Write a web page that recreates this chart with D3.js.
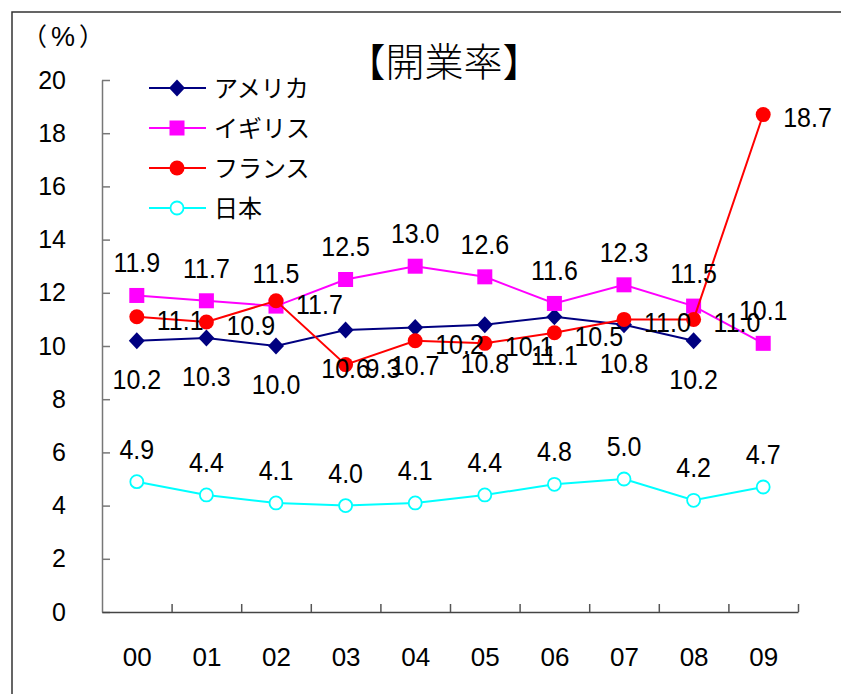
<!DOCTYPE html>
<html>
<head>
<meta charset="utf-8">
<script src="https://cdn.jsdelivr.net/npm/d3@7/dist/d3.min.js"></script>
<style>
  html, body { margin: 0; padding: 0; background: #fff; }
  svg { display: block; }
  .num { font-family: "Liberation Sans", Arial, sans-serif; }
  .jp { font-family: "Noto Sans CJK JP", sans-serif; }
</style>
</head>
<body>
<svg id="chart" width="841" height="694"></svg>
<script>
// Years (fiscal, two-digit)
const years = ["00", "01", "02", "03", "04", "05", "06", "07", "08", "09"];

// Business start-up rate (%) by country
const usa    = [10.2, 10.3, 10.0, 10.6, 10.7, 10.8, 11.1, 10.8, 10.2, null];
const uk     = [11.9, 11.7, 11.5, 12.5, 13.0, 12.6, 11.6, 12.3, 11.5, 10.1];
const france = [11.1, 10.9, 11.7, 9.3, 10.2, 10.1, 10.5, 11.0, 11.0, 18.7];
const japan  = [4.9, 4.4, 4.1, 4.0, 4.1, 4.4, 4.8, 5.0, 4.2, 4.7];

const seriesNames = ["アメリカ", "イギリス", "フランス", "日本"];
const yTicks = [0, 2, 4, 6, 8, 10, 12, 14, 16, 18, 20];

const svg = d3.select("#chart");

// Outer frame (top and left edges visible)
svg.append("rect")
  .attr("x", 12).attr("y", 12)
  .attr("width", 900).attr("height", 800)
  .attr("fill", "none").attr("stroke", "#333").attr("stroke-width", 1.5);

const plot = { left: 102, right: 798, top: 80, bottom: 612 };

const x = d3.scalePoint().domain(years).range([plot.left, plot.right]).padding(0.5);
const xEdges = d3.scaleLinear().domain([0, years.length]).range([plot.left, plot.right]);
const y = d3.scaleLinear().domain([0, 20]).range([plot.bottom, plot.top]);

// Y axis (ticks pointing inward)
const yAxis = svg.append("g")
  .attr("transform", `translate(${plot.left},0)`)
  .call(d3.axisLeft(y).tickValues(yTicks).tickSizeInner(-8).tickSizeOuter(0).tickPadding(36));
yAxis.select(".domain").attr("stroke", "#777").attr("stroke-width", 1.5);
yAxis.selectAll(".tick line").attr("stroke", "#777").attr("stroke-width", 1.5);
yAxis.selectAll("text")
  .attr("class", "num").attr("font-size", 25).attr("fill", "#000");

// X axis line with category boundary ticks pointing up
const xAxis = svg.append("g")
  .attr("transform", `translate(0,${plot.bottom})`)
  .call(d3.axisBottom(xEdges).ticks(years.length).tickSizeInner(-8).tickSizeOuter(0).tickFormat(""));
xAxis.select(".domain").attr("stroke", "#444").attr("stroke-width", 1.5);
xAxis.selectAll(".tick line").attr("stroke", "#555").attr("stroke-width", 1.5);
xAxis.selectAll(".tick").filter(d => d === 0).remove();

// X category labels
const xLabels = svg.append("g")
  .attr("transform", `translate(0,${plot.bottom})`)
  .call(d3.axisBottom(x).tickSize(0).tickPadding(36));
xLabels.select(".domain").remove();
xLabels.selectAll("text")
  .attr("class", "num").attr("font-size", 26).attr("fill", "#000");

// Unit label: full-width parentheses around a percent sign
const unit = svg.append("text").attr("x", 22).attr("y", 46);
unit.append("tspan").attr("class", "jp").attr("font-size", 25).text("（");
unit.append("tspan").attr("class", "num").attr("font-size", 27).attr("dx", 4).text("%");
unit.append("tspan").attr("class", "jp").attr("font-size", 25).attr("dx", 4).text("）");

// Title
svg.append("text").attr("class", "jp")
  .attr("x", 444).attr("y", 76).attr("text-anchor", "middle")
  .attr("font-size", 39).attr("font-weight", 300).text("【開業率】");

const series = [
  { name: seriesNames[0], values: usa,    color: "#000080", marker: "diamond", label: "below" },
  { name: seriesNames[1], values: uk,     color: "#FF00FF", marker: "square",  label: "above" },
  { name: seriesNames[2], values: france, color: "#FF0000", marker: "circle",  label: "right" },
  { name: seriesNames[3], values: japan,  color: "#00FFFF", marker: "open",    label: "above" }
];

function drawMarker(g, type, color) {
  if (type === "diamond") {
    g.append("path").attr("d", "M0,-8.5L8,0L0,8.5L-8,0Z").attr("fill", color);
  } else if (type === "square") {
    g.append("rect").attr("x", -7.5).attr("y", -7.5).attr("width", 15).attr("height", 15)
      .attr("fill", color);
  } else if (type === "circle") {
    g.append("circle").attr("r", 7.5).attr("fill", color);
  } else {
    g.append("circle").attr("r", 6.5).attr("fill", "#fff").attr("stroke", color).attr("stroke-width", 1.8);
  }
}

const line = d3.line()
  .defined(d => d.v !== null)
  .x(d => x(d.year))
  .y(d => y(d.v));

series.forEach(s => {
  const pts = s.values.map((v, i) => ({ year: years[i], v }));
  const g = svg.append("g");
  g.append("path").datum(pts)
    .attr("d", line).attr("fill", "none")
    .attr("stroke", s.color).attr("stroke-width", 2);
  pts.filter(d => d.v !== null).forEach(d => {
    const m = g.append("g").attr("transform", `translate(${x(d.year)},${y(d.v)})`);
    drawMarker(m, s.marker, s.color);
  });
});

// Data labels
series.forEach(s => {
  const pts = s.values.map((v, i) => ({ year: years[i], v })).filter(d => d.v !== null);
  svg.append("g").selectAll("g").data(pts).join("g")
    .attr("transform", d => {
      const lx = s.label === "right" ? x(d.year) + 20 : x(d.year);
      let ly;
      if (s.label === "below") ly = y(d.v) + 38;
      else if (s.label === "above") ly = y(d.v) - 33;
      else ly = y(d.v) + 3;
      return `translate(${lx},${ly}) scale(1,1.1)`;
    })
    .append("text")
    .attr("class", "num").attr("font-size", 25).attr("fill", "#000")
    .attr("dy", "0.36em")
    .attr("text-anchor", s.label === "right" ? "start" : "middle")
    .text(d => d.v.toFixed(1));
});

// Legend
const legend = svg.append("g");
series.forEach((s, i) => {
  const ly = 88 + i * 40;
  const row = legend.append("g").attr("transform", `translate(0,${ly})`);
  row.append("line").attr("x1", 149).attr("x2", 206).attr("y1", 0).attr("y2", 0)
    .attr("stroke", s.color).attr("stroke-width", 2);
  const m = row.append("g").attr("transform", "translate(177,0)");
  drawMarker(m, s.marker, s.color);
  row.append("text").attr("class", "jp")
    .attr("x", 214).attr("y", 0).attr("dy", "0.36em")
    .attr("font-size", 24).attr("fill", "#000").text(s.name);
});
</script>
</body>
</html>
